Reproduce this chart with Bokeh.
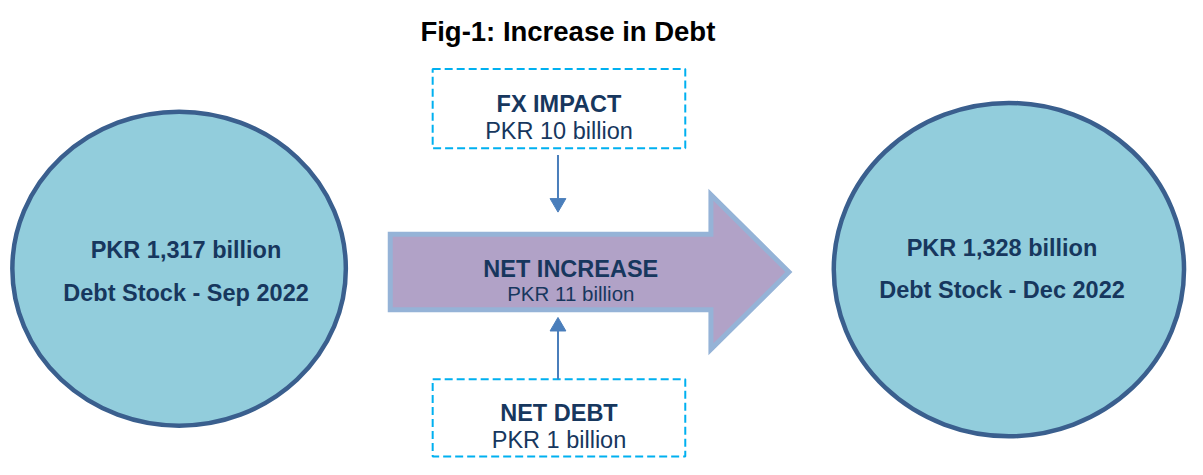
from bokeh.plotting import figure
from bokeh.models import Range1d
from bokeh.core.properties import value
from bokeh.embed import file_html
from bokeh.resources import INLINE

FONT = "Liberation Sans"
TEXT_COLOR = "#17375E"

# ---- content ----
title = "Fig-1: Increase in Debt"
stock_values = ["PKR 1,317 billion", "PKR 1,328 billion"]
stock_labels = ["Debt Stock - Sep 2022", "Debt Stock - Dec 2022"]
box_heads = ["FX IMPACT", "NET DEBT"]
box_values = ["PKR 10 billion", "PKR 1 billion"]
flow_head = "NET INCREASE"
flow_value = "PKR 11 billion"

# ---- layout (reference pixel coordinates) ----
circle_x = [181, 1022]
circle_y = [277.5, 278.5]
circle_w = [338, 355]
circle_h = [325, 345]
circle_text_x = [188, 1015]
circle_line1_y = [258, 256]
circle_line2_y = [303, 300]

arrow_xs = [395, 720, 720, 799, 720, 720, 395]
arrow_ys = [242, 242, 201, 281, 361, 320, 320]

box_left = [438, 438]
box_right = [694, 694]
box_top = [71, 392]
box_bottom = [153, 472]
box_cx = [566, 566]
box_head_y = [107, 427]
box_value_y = [135, 455]

conn_x = [565, 565]
conn_from = [160, 392]
conn_to = [205, 342]
head_tip = [219, 328]

W, H = 1187, 459
p = figure(width=W, height=H, output_backend="svg", toolbar_location=None,
           x_range=Range1d(0, 1203), y_range=Range1d(475, 0),
           min_border=0, outline_line_color=None, background_fill_color="white",
           border_fill_color="white")
p.axis.visible = False
p.grid.visible = False

# title
p.text(x=[575], y=[32], text=[title], text_font=value(FONT), text_font_style="bold",
       text_font_size="27.5px", text_color="black", text_align="center",
       text_baseline="alphabetic")

# circles
p.ellipse(x=circle_x, y=circle_y, width=circle_w, height=circle_h,
          fill_color="#92CDDC", line_color="#3A5F8E", line_width=4.5)

p.text(x=circle_text_x, y=circle_line1_y, text=stock_values, text_font=value(FONT),
       text_font_style="bold", text_font_size="23.5px", text_color=TEXT_COLOR,
       text_align="center", text_baseline="alphabetic")
p.text(x=circle_text_x, y=circle_line2_y, text=stock_labels, text_font=value(FONT),
       text_font_style="bold", text_font_size="23.5px", text_color=TEXT_COLOR,
       text_align="center", text_baseline="alphabetic")

# big arrow
p.patch(x=arrow_xs, y=arrow_ys, fill_color="#B1A2C7", line_color="#95B3D7",
        line_width=5, line_join="miter")
p.text(x=[578], y=[278], text=[flow_head], text_font=value(FONT), text_font_style="bold",
       text_font_size="23.5px", text_color=TEXT_COLOR, text_align="center",
       text_baseline="alphabetic")
p.text(x=[578], y=[303], text=[flow_value], text_font=value(FONT),
       text_font_size="20.5px", text_color=TEXT_COLOR, text_align="center",
       text_baseline="alphabetic")

# dashed boxes
p.quad(left=box_left, right=box_right, top=box_top, bottom=box_bottom,
       fill_color=None, line_color="#00B0F0", line_width=2, line_dash="8 4")
p.text(x=box_cx, y=box_head_y, text=box_heads, text_font=value(FONT),
       text_font_style="bold", text_font_size="23.5px", text_color=TEXT_COLOR,
       text_align="center", text_baseline="alphabetic")
p.text(x=box_cx, y=box_value_y, text=box_values, text_font=value(FONT),
       text_font_size="23.5px", text_color=TEXT_COLOR, text_align="center",
       text_baseline="alphabetic")

# connector arrows
p.segment(x0=conn_x, y0=conn_from, x1=conn_x, y1=conn_to,
          line_color="#4A7EBB", line_width=2)
head_xs = [[x - 8, x + 8, x] for x in conn_x]
head_ys = [[b, b, t] for b, t in zip(conn_to, head_tip)]
p.patches(xs=head_xs, ys=head_ys, fill_color="#4A7EBB", line_color="#4A7EBB",
          line_width=1)

open("out.html", "w").write(file_html(p, INLINE))
